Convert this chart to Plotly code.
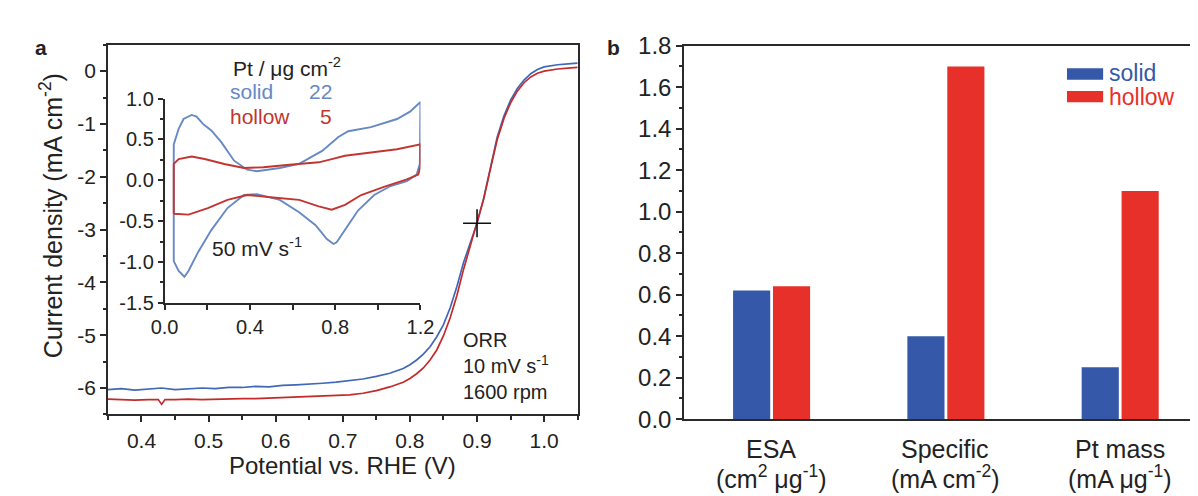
import plotly.graph_objects as go

W, H = 1198, 496

# ---------------- data ----------------
lsv_v_solid = [0.35, 0.37, 0.39, 0.41, 0.43, 0.45, 0.47, 0.49, 0.51, 0.53, 0.55, 0.57, 0.59, 0.61,
               0.63, 0.65, 0.67, 0.69, 0.71, 0.73, 0.75, 0.77, 0.79, 0.80, 0.81, 0.82, 0.83, 0.84,
               0.85, 0.86, 0.87, 0.88, 0.89, 0.90, 0.91, 0.92, 0.93, 0.94, 0.95, 0.96, 0.97, 0.98,
               0.99, 1.00, 1.02, 1.04, 1.05]
lsv_j_solid = [-6.03, -6.01, -6.04, -6.02, -6.00, -6.03, -6.01, -6.00, -6.01, -5.99, -5.99, -5.97, -5.98, -5.95,
               -5.94, -5.93, -5.91, -5.89, -5.86, -5.83, -5.78, -5.72, -5.63, -5.56, -5.47, -5.36, -5.22, -5.03,
               -4.80, -4.48, -4.08, -3.62, -3.25, -2.88, -2.40, -1.80, -1.25, -0.85, -0.55, -0.33, -0.17, -0.05,
               0.03, 0.08, 0.12, 0.14, 0.15]

lsv_v_hollow = [0.35, 0.37, 0.39, 0.41, 0.425, 0.43, 0.435, 0.45, 0.47, 0.49, 0.51, 0.53, 0.55, 0.57,
                0.59, 0.61, 0.63, 0.65, 0.67, 0.69, 0.71, 0.73, 0.75, 0.77, 0.78, 0.79, 0.80, 0.81,
                0.82, 0.83, 0.84, 0.85, 0.86, 0.87, 0.88, 0.89, 0.90, 0.91, 0.92, 0.93, 0.94, 0.95,
                0.96, 0.97, 0.98, 0.99, 1.00, 1.02, 1.04, 1.05]
lsv_j_hollow = [-6.21, -6.22, -6.23, -6.22, -6.22, -6.31, -6.22, -6.22, -6.21, -6.22, -6.21, -6.20, -6.20, -6.20,
                -6.19, -6.19, -6.18, -6.17, -6.16, -6.15, -6.13, -6.10, -6.05, -5.98, -5.94, -5.89, -5.82, -5.73,
                -5.62, -5.47, -5.28, -5.01, -4.67, -4.25, -3.75, -3.30, -2.88, -2.42, -1.85, -1.30, -0.90, -0.60,
                -0.38, -0.22, -0.11, -0.04, 0.00, 0.04, 0.06, 0.07]

half_wave_v = [0.90]
half_wave_j = [-2.88]

cv_v_solid = [0.043, 0.043, 0.066, 0.089, 0.127, 0.150, 0.180, 0.219, 0.265, 0.326, 0.387, 0.433, 0.540,
              0.631, 0.739, 0.815, 0.861, 0.968, 1.090, 1.151, 1.200, 1.200, 1.197, 1.182, 1.136, 1.060,
              0.983, 0.907, 0.846, 0.807, 0.792, 0.761, 0.708, 0.631, 0.540, 0.433, 0.372, 0.295, 0.219,
              0.157, 0.112, 0.093, 0.066, 0.043]
cv_i_solid = [-0.99, 0.44, 0.63, 0.75, 0.80, 0.78, 0.69, 0.61, 0.47, 0.24, 0.13, 0.11, 0.15,
              0.20, 0.36, 0.53, 0.60, 0.65, 0.75, 0.84, 0.96, 0.47, 0.20, 0.07, -0.01, -0.07,
              -0.18, -0.37, -0.61, -0.76, -0.78, -0.72, -0.55, -0.39, -0.24, -0.17, -0.18, -0.34, -0.61,
              -0.88, -1.11, -1.18, -1.11, -0.99]

cv_v_hollow = [0.043, 0.043, 0.066, 0.127, 0.188, 0.280, 0.372, 0.463, 0.586, 0.723, 0.784, 0.846, 0.968,
               1.090, 1.200, 1.200, 1.190, 1.136, 1.029, 0.922, 0.846, 0.784, 0.723, 0.631, 0.509, 0.387,
               0.295, 0.203, 0.112, 0.066, 0.043]
cv_i_hollow = [-0.41, 0.20, 0.26, 0.29, 0.26, 0.20, 0.15, 0.16, 0.19, 0.22, 0.26, 0.30, 0.34,
               0.38, 0.44, 0.17, 0.07, 0.01, -0.08, -0.18, -0.30, -0.36, -0.32, -0.24, -0.21, -0.18,
               -0.24, -0.34, -0.42, -0.41, -0.41]

category_names = ["ESA", "Specific", "Pt mass"]
category_units = ["(cm<sup>2</sup> μg<sup>-1</sup>)", "(mA cm<sup>-2</sup>)", "(mA μg<sup>-1</sup>)"]
bar_solid = [0.62, 0.40, 0.25]
bar_hollow = [0.64, 1.70, 1.10]

a_y_ticks = [0, -1, -2, -3, -4, -5, -6]
a_y_labels = ["0", "-1", "-2", "-3", "-4", "-5", "-6"]
a_x_ticks = [0.4, 0.5, 0.6, 0.7, 0.8, 0.9, 1.0]
inset_y_ticks = [1.0, 0.5, 0.0, -0.5, -1.0, -1.5]
inset_y_labels = ["1.0", "0.5", "0.0", "-0.5", "-1.0", "-1.5"]
inset_x_ticks = [0.0, 0.4, 0.8, 1.2]
b_y_ticks = [0.0, 0.2, 0.4, 0.6, 0.8, 1.0, 1.2, 1.4, 1.6, 1.8]

# ---------------- styling ----------------
FONT = "Liberation Sans, Arial, sans-serif"
BLUE_LSV = "#4068b8"
RED_LSV = "#c42a2a"
BLUE_CV = "#6689c4"
RED_CV = "#c23530"
BLUE_BAR = "#3558a9"
RED_BAR = "#e8302a"
AX = "#2a2a2a"


def px(x):
    return x / W


def py(y):
    return 1 - y / H


fig = go.Figure()

# panel a main
fig.add_trace(go.Scatter(x=lsv_v_solid, y=lsv_j_solid, mode="lines",
                         line=dict(color=BLUE_LSV, width=1.7), xaxis="x", yaxis="y", showlegend=False))
fig.add_trace(go.Scatter(x=lsv_v_hollow, y=lsv_j_hollow, mode="lines",
                         line=dict(color=RED_LSV, width=1.7), xaxis="x", yaxis="y", showlegend=False))
fig.add_trace(go.Scatter(x=half_wave_v, y=half_wave_j, mode="markers",
                         marker=dict(symbol="cross-thin", size=20, line=dict(color="#111", width=1.6)),
                         xaxis="x", yaxis="y", showlegend=False))

# inset
fig.add_trace(go.Scatter(x=cv_v_solid, y=cv_i_solid, mode="lines",
                         line=dict(color=BLUE_CV, width=1.9), xaxis="x2", yaxis="y2", showlegend=False))
fig.add_trace(go.Scatter(x=cv_v_hollow, y=cv_i_hollow, mode="lines",
                         line=dict(color=RED_CV, width=1.9), xaxis="x2", yaxis="y2", showlegend=False))

# panel b bars
cat_pos = list(range(len(category_names)))
fig.add_trace(go.Bar(x=cat_pos, y=bar_solid, width=0.213, offset=-0.218, marker_color=BLUE_BAR,
                     marker_line_width=0, xaxis="x3", yaxis="y3", showlegend=False))
fig.add_trace(go.Bar(x=cat_pos, y=bar_hollow, width=0.213, offset=0.011, marker_color=RED_BAR,
                     marker_line_width=0, xaxis="x3", yaxis="y3", showlegend=False))

tickfont_a = dict(family=FONT, size=21, color="#222")
tickfont_in = dict(family=FONT, size=20, color="#222")
tickfont_b = dict(family=FONT, size=24, color="#222")

fig.update_layout(
    width=W, height=H,
    margin=dict(l=0, r=0, t=0, b=0),
    paper_bgcolor="white", plot_bgcolor="rgba(0,0,0,0)",
    barmode="overlay",
    font=dict(family=FONT, color="#222", size=20),
    xaxis=dict(domain=[px(88), px(569)], range=[0.35, 1.05], tickvals=a_x_ticks, tickformat=".1f",
               ticks="outside", ticklen=6, tickwidth=1.5, tickcolor=AX,
               minor=dict(dtick=0.05, ticks="outside", ticklen=3.5, tickwidth=1.5, tickcolor=AX),
               showline=True, linecolor=AX, linewidth=1.8, mirror=True,
               showgrid=False, zeroline=False, tickfont=tickfont_a, anchor="y"),
    yaxis=dict(domain=[py(415), py(24)], range=[-6.5, 0.5], tickvals=a_y_ticks, ticktext=a_y_labels,
               ticks="outside", ticklen=6, tickwidth=1.5, tickcolor=AX,
               minor=dict(dtick=0.5, ticks="outside", ticklen=3.5, tickwidth=1.5, tickcolor=AX),
               showline=True, linecolor=AX, linewidth=1.8, mirror=True,
               showgrid=False, zeroline=False, tickfont=tickfont_a, anchor="x"),
    xaxis2=dict(domain=[px(146), px(408)], range=[0, 1.2], tickvals=inset_x_ticks, tickformat=".1f",
                ticks="outside", ticklen=5, tickwidth=1.5, tickcolor=AX,
                minor=dict(dtick=0.2, ticks="outside", ticklen=5, tickwidth=1.5, tickcolor=AX),
                showline=True, linecolor=AX, linewidth=1.6, mirror=False,
                showgrid=False, zeroline=False, tickfont=tickfont_in, anchor="y2"),
    yaxis2=dict(domain=[py(297), py(81)], range=[-1.5, 1.0], tickvals=inset_y_ticks, ticktext=inset_y_labels,
                ticks="outside", ticklen=5, tickwidth=1.5, tickcolor=AX,
                minor=dict(dtick=0.25, ticks="outside", ticklen=3, tickwidth=1.5, tickcolor=AX),
                showline=True, linecolor=AX, linewidth=1.6, mirror=False,
                showgrid=False, zeroline=False, tickfont=tickfont_in, anchor="x2"),
    xaxis3=dict(domain=[px(678), 1.0], range=[-0.4986, 2.415], tickvals=cat_pos,
                showticklabels=False, ticks="", showline=True, linecolor=AX, linewidth=1.8, mirror=True,
                showgrid=False, zeroline=False, anchor="y3"),
    yaxis3=dict(domain=[py(420), py(25)], range=[0, 1.8], tickvals=b_y_ticks, tickformat=".1f",
                ticks="outside", ticklen=6, tickwidth=1.5, tickcolor=AX,
                minor=dict(dtick=0.1, ticks="outside", ticklen=3.5, tickwidth=1.5, tickcolor=AX),
                showline=True, linecolor=AX, linewidth=1.8, mirror=False,
                showgrid=False, zeroline=False, tickfont=tickfont_b, anchor="x3"),
)

ann = []


def text(x, y, s, size=20, color="#222", xanchor="center", yanchor="middle", angle=0, bold=False,
         xref="paper", align="center"):
    if bold:
        s = "<b>" + s + "</b>"
    ann.append(dict(x=px(x) if xref == "paper" else x, y=py(y), xref=xref, yref="paper", text=s,
                    showarrow=False, xanchor=xanchor, yanchor=yanchor, textangle=angle, align=align,
                    font=dict(family=FONT, size=size, color=color)))


text(19, 27, "a", size=21, bold=True)
text(606, 27, "b", size=21, bold=True)
text(328, 469, "Potential vs. RHE (V)", size=24)
text(30, 205, "Current density (mA cm<sup>-2</sup>)", size=25, angle=-90)
text(449, 364, "ORR<br>10 mV s<sup>-1</sup><br>1600 rpm", size=20, xanchor="left", align="left")
text(271, 48, "Pt / μg cm<sup>-2</sup>", size=21)
text(211, 74, "solid", size=21, color=BLUE_CV, xanchor="left")
text(319, 74, "22", size=21, color=BLUE_CV, xanchor="right")
text(211, 100, "hollow", size=21, color=RED_CV, xanchor="left")
text(319, 100, "5", size=21, color=RED_CV, xanchor="right")
text(192, 238, "50 mV s<sup>-1</sup>", size=21, xanchor="left")
text(1111, 54, "solid", size=23, color=BLUE_BAR, xanchor="left")
text(1111, 79, "hollow", size=23, color=RED_BAR, xanchor="left")
for i, (nm, un) in enumerate(zip(category_names, category_units)):
    text(cat_pos[i], 452, nm, size=25, xref="x3")
    text(cat_pos[i], 481, un, size=25, xref="x3")
fig.update_layout(annotations=ann)

shapes = [
    dict(type="rect", xref="paper", yref="paper", x0=px(1070), x1=px(1107), y0=py(61), y1=py(49),
         fillcolor=BLUE_BAR, line_width=0),
    dict(type="rect", xref="paper", yref="paper", x0=px(1070), x1=px(1107), y0=py(85), y1=py(73),
         fillcolor=RED_BAR, line_width=0),
]
fig.update_layout(shapes=shapes)

fig.write_html("out.html")
